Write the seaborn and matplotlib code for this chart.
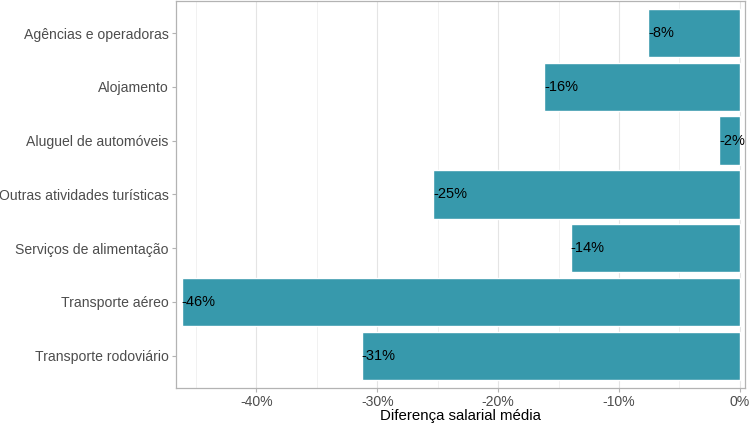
import seaborn as sns
import pandas as pd
import numpy as np
import matplotlib.pyplot as plt
from matplotlib.ticker import MultipleLocator, FuncFormatter

# dados
atividades = ['Agências e operadoras', 'Alojamento', 'Aluguel de automóveis',
              'Outras atividades turísticas', 'Serviços de alimentação',
              'Transporte aéreo', 'Transporte rodoviário']
diferenca = [-7.6, -16.2, -1.7, -25.4, -14.0, -46.2, -31.3]

df = pd.DataFrame({'atividade': atividades, 'diferenca': diferenca})

sns.set_style('white')
plt.rcParams['font.family'] = ['Liberation Sans', 'DejaVu Sans']

fig = plt.figure(figsize=(7.5, 4.25), dpi=100)
ax = fig.add_axes([0.234, 0.087, 0.759, 0.911])

# grade (estilo theme_light)
ax.set_axisbelow(True)
ax.xaxis.set_major_locator(MultipleLocator(10))
ax.xaxis.set_minor_locator(MultipleLocator(5))
ax.grid(which='major', axis='both', color='#e4e4e4', linewidth=0.8)
ax.grid(which='minor', axis='x', color='#efefef', linewidth=0.6)

sns.barplot(data=df, x='diferenca', y='atividade', order=atividades,
            color='#3799ac', saturation=1, width=0.9, orient='h', ax=ax)

# rotulos no inicio de cada barra
for i, v in enumerate(diferenca):
    ax.text(v, i, f'{round(v)}%', ha='left', va='center', fontsize=10.5, color='black')

ax.set_xlim(-46.7, 0.4)
ax.set_ylim(6.6, -0.6)
ax.xaxis.set_major_formatter(FuncFormatter(lambda x, p: f'{x:.0f}%'))

ax.set_xlabel('Diferença salarial média', fontsize=10.8, color='black', labelpad=0)
ax.set_ylabel('')
ax.tick_params(axis='both', which='major', labelsize=10.1, labelcolor='#4d4d4d',
               color='#b3b3b3', length=3, width=0.8, pad=2, bottom=True, left=True)
ax.tick_params(axis='x', which='minor', length=0)

for s in ax.spines.values():
    s.set_visible(True)
    s.set_color('#b3b3b3')
    s.set_linewidth(0.9)

plt.savefig('out.png', dpi=100)
plt.close()
